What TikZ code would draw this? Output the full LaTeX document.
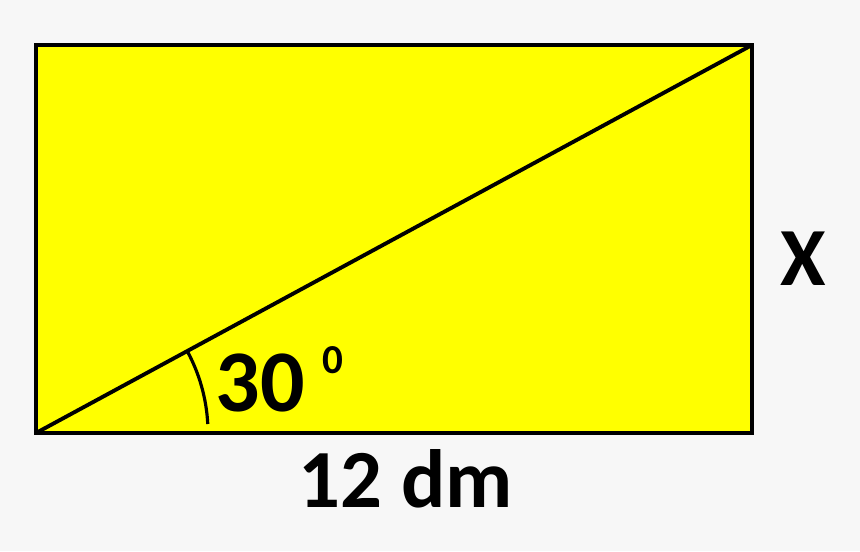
\documentclass[tikz,border=0pt]{standalone}
\usepackage{fontspec}
\setmainfont{Carlito}
\usepackage{xcolor}
\definecolor{bgpage}{HTML}{F7F7F7}
\definecolor{rectfill}{HTML}{FFFF00}

\begin{document}
\begin{tikzpicture}[x=0.01cm,y=-0.01cm,
  lbl/.style={font=\bfseries\fontsize{23.5}{28}\selectfont,inner sep=0pt}]
\fill[bgpage] (0,0) rectangle (860,551);
\useasboundingbox (0,0) rectangle (860,551);

\coordinate (A) at (36,433);
\coordinate (B) at (752,433);
\coordinate (C) at (752,45);
\coordinate (D) at (36,45);

\draw[line width=1.2pt,fill=rectfill] (A)--(B)--(C)--(D)--cycle;
\draw[line width=1.1pt] (A)--(C);

% angle mark (y axis points down, so angles are negative)
\draw[line width=0.9pt] (A) ++(-28.5:172) arc[start angle=-28.5,end angle=-3,radius=172];

\node[lbl,font=\bfseries\fontsize{25}{30}\selectfont] (ang) at (260,383) {30};
\node[lbl,font=\bfseries\fontsize{11.7}{14}\selectfont] (deg) at (333,360) {0};

\node[lbl] (side) at (803,259) {X};
\node[lbl] (base) at (406,479) {12 dm};
\end{tikzpicture}
\end{document}
